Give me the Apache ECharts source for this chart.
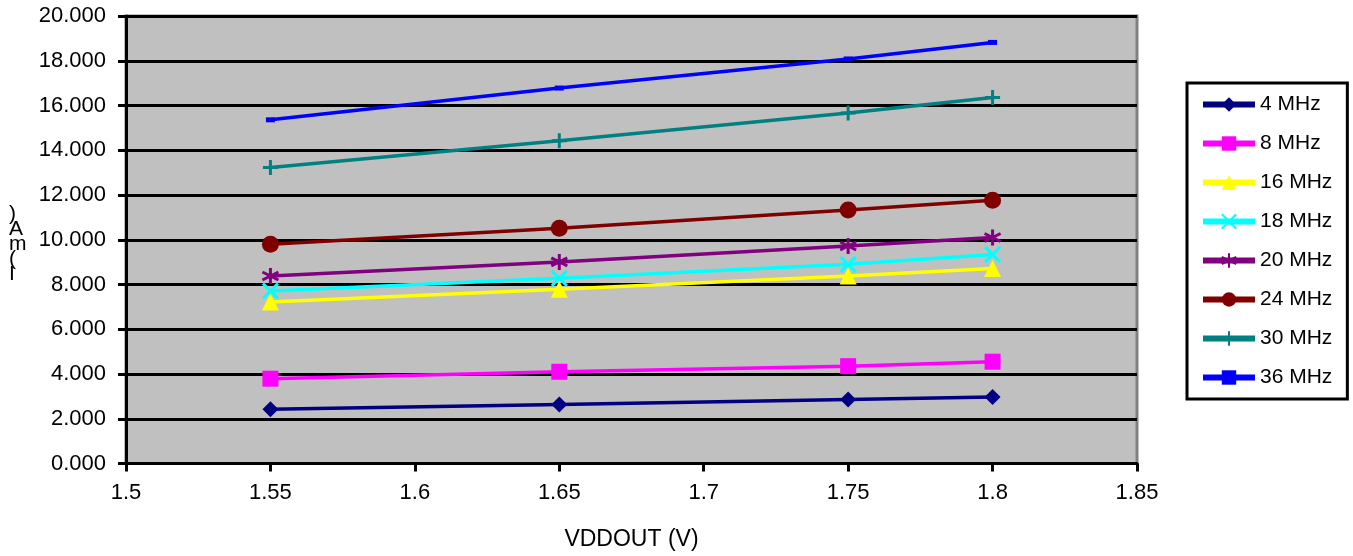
<!DOCTYPE html>
<html>
<head>
<meta charset="utf-8">
<script src="https://cdn.jsdelivr.net/npm/echarts@6/dist/echarts.min.js"></script>
<style>html,body{margin:0;padding:0;background:#fff;}#c{width:1353px;height:556px;}</style>
</head>
<body>
<div id="c"></div>
<script>
var voltages = [1.55, 1.65, 1.75, 1.8];
var seriesNames = ['4 MHz', '8 MHz', '16 MHz', '18 MHz', '20 MHz', '24 MHz', '30 MHz', '36 MHz'];
var mhz4  = [2.42, 2.64, 2.86, 2.97];
var mhz8  = [3.79, 4.10, 4.35, 4.55];
var mhz16 = [7.22, 7.79, 8.38, 8.71];
var mhz18 = [7.71, 8.28, 8.90, 9.34];
var mhz20 = [8.38, 9.01, 9.72, 10.10];
var mhz24 = [9.80, 10.51, 11.33, 11.77];
var mhz30 = [13.23, 14.42, 15.66, 16.36];
var mhz36 = [15.36, 16.78, 18.08, 18.82];
var allValues = [mhz4, mhz8, mhz16, mhz18, mhz20, mhz24, mhz30, mhz36];

var colors = ['#000080', '#FF00FF', '#FFFF00', '#00FFFF', '#800080', '#800000', '#008080', '#0000FF'];
var symbols = [
  {symbol: 'diamond', size: 16, stroke: false},
  {symbol: 'rect', size: 16, stroke: false},
  {symbol: 'triangle', size: 17, stroke: false},
  {symbol: 'path://M0,0L10,10M10,0L0,10', size: 15, stroke: true},
  {symbol: 'path://M5,0L5,10M0,2.5L10,7.5M0,7.5L10,2.5', size: 16, stroke: true},
  {symbol: 'circle', size: 17, stroke: false},
  {symbol: 'path://M5,0L5,10M0,5L10,5', size: 15, stroke: true},
  {symbol: 'rect', size: [9, 5], stroke: false}
];

var series = seriesNames.map(function (name, i) {
  var s = symbols[i];
  return {
    name: name,
    type: 'line',
    data: voltages.map(function (x, j) { return [x, allValues[i][j]]; }),
    symbol: s.symbol,
    symbolSize: s.size,
    showAllSymbol: true,
    color: colors[i],
    lineStyle: {width: 3.5, color: colors[i]},
    itemStyle: s.stroke ? {color: 'rgba(0,0,0,0)', borderColor: colors[i], borderWidth: 3} : {color: colors[i], borderWidth: 0},
    emphasis: {disabled: true},
    animation: false
  };
});

var chart = echarts.init(document.getElementById('c'), null, {renderer: 'canvas'});
chart.setOption({
  backgroundColor: '#ffffff',
  animation: false,
  grid: {
    left: 126, top: 16, right: 216, bottom: 92.5,
    outerBoundsMode: 'none', containLabel: false,
    show: true, backgroundColor: '#C0C0C0', borderColor: '#808080', borderWidth: 3
  },
  xAxis: {
    type: 'value', min: 1.5, max: 1.85, interval: 0.05,
    name: 'VDDOUT (V)', nameLocation: 'middle', nameGap: 65,
    nameTextStyle: {fontFamily: 'Liberation Sans', fontSize: 23, color: '#000'},
    axisLine: {show: true, lineStyle: {color: '#000', width: 3}},
    axisTick: {show: true, length: 8, lineStyle: {color: '#000', width: 3}},
    axisLabel: {fontFamily: 'Liberation Sans', fontSize: 22, color: '#000', margin: 18,
      formatter: function (v) { return String(parseFloat(v.toFixed(2))); }},
    splitLine: {show: false}
  },
  yAxis: {
    type: 'value', min: 0, max: 20, interval: 2,
    axisLine: {show: true, lineStyle: {color: '#000', width: 3}},
    axisTick: {show: true, length: 8, lineStyle: {color: '#000', width: 3}},
    axisLabel: {fontFamily: 'Liberation Sans', fontSize: 22, color: '#000', margin: 20,
      formatter: function (v) { return v.toFixed(3); }},
    splitLine: {show: true, lineStyle: {color: '#000', width: 3}}
  },
  legend: {
    orient: 'vertical', left: 1187, top: 83,
    padding: [11, 15, 11, 13],
    borderColor: '#000', borderWidth: 3,
    backgroundColor: '#fff',
    itemWidth: 52, itemHeight: 18, itemGap: 18,
    lineStyle: {width: 6},
    textStyle: {fontFamily: 'Liberation Sans', fontSize: 21, color: '#000'},
    data: seriesNames
  },
  graphic: [{
    type: 'text', left: 9, top: 204,
    style: {text: ')\nA\nm\n(\nI', fontFamily: 'Liberation Sans', fontSize: 21, lineHeight: 15, fill: '#000'}
  }],
  series: series
});
</script>
</body>
</html>
